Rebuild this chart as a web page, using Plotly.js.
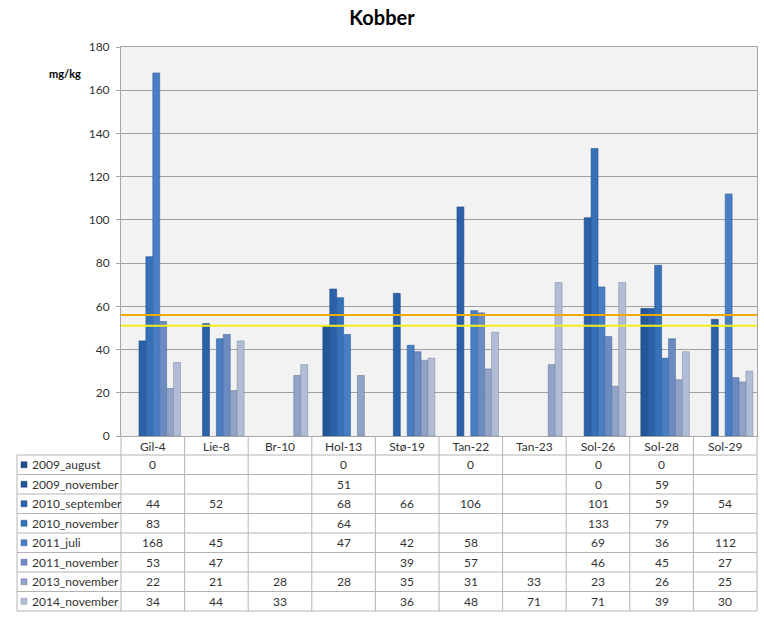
<!DOCTYPE html>
<html>
<head>
<meta charset="utf-8">
<script src="https://cdn.plot.ly/plotly-3.0.1.min.js"></script>
<style>html,body{margin:0;padding:0;background:#fff;}#chart{width:764px;height:623px;}</style>
</head>
<body>
<div id="chart"></div>
<script>
// ---- data ----
const categories = ["Gil-4","Lie-8","Br-10","Hol-13","Stø-19","Tan-22","Tan-23","Sol-26","Sol-28","Sol-29"];
const seriesNames = ["2009_august","2009_november","2010_september","2010_november","2011_juli","2011_november","2013_november","2014_november"];
const v2009_august    = [0, null, null, 0, null, 0, null, 0, 0, null];
const v2009_november  = [null, null, null, 51, null, null, null, 0, 59, null];
const v2010_september = [44, 52, null, 68, 66, 106, null, 101, 59, 54];
const v2010_november  = [83, null, null, 64, null, null, null, 133, 79, null];
const v2011_juli      = [168, 45, null, 47, 42, 58, null, 69, 36, 112];
const v2011_november  = [53, 47, null, null, 39, 57, null, 46, 45, 27];
const v2013_november  = [22, 21, 28, 28, 35, 31, 33, 23, 26, 25];
const v2014_november  = [34, 44, 33, null, 36, 48, 71, 71, 39, 30];
const seriesValues = [v2009_august, v2009_november, v2010_september, v2010_november, v2011_juli, v2011_november, v2013_november, v2014_november];
const limitOrange = 56;
const limitYellow = 51;
const yTicks = [0,20,40,60,80,100,120,140,160,180];

// ---- styling ----
const colors = ["#1f4e8c","#24579a","#2b61a9","#3570b9","#477ec4","#6a8cc3","#91a3c8","#b1bdd6"];
const lineColors = ["#163a6a","#1b4276","#214b84","#2a5692","#38629a","#52699a","#6c7a99","#848fa6"];
const FONT = "Lato, 'Liberation Sans', sans-serif";

const W = 764, H = 623;
const plotL = 121, plotR = 757, plotT = 47, plotB = 436;
const pw = plotR - plotL, ph = plotB - plotT;
const px2x = p => (p - plotL) / pw;
const py2y = p => (plotB - p) / ph;

const traces = seriesNames.map((n, i) => ({
  type: "bar",
  name: n,
  x: categories,
  y: seriesValues[i],
  marker: { color: colors[i], line: { color: lineColors[i], width: seriesValues[i].map(v => (v ? 0.6 : 0)) } },
  hoverinfo: "x+y+name"
}));

// table geometry
const tableTop = 455, rowH = 19.5, tableLeft = 17;
const nRows = seriesNames.length;
const tableBottom = tableTop + rowH * nRows;
const gridCol = "#b4b4b4";

const shapes = [];
// reference lines
shapes.push({type:"line", xref:"paper", yref:"y", x0:0, x1:1, y0:limitOrange, y1:limitOrange, line:{color:"#f2a900", width:2}});
shapes.push({type:"line", xref:"paper", yref:"y", x0:0, x1:1, y0:limitYellow, y1:limitYellow, line:{color:"#f3ee1e", width:2}});
// horizontal table lines
for (let r = 0; r <= nRows; r++) {
  const yy = py2y(tableTop + r * rowH);
  shapes.push({type:"line", xref:"paper", yref:"paper", x0:px2x(tableLeft), x1:1, y0:yy, y1:yy, line:{color:gridCol, width:1}});
}
// vertical lines: left border of row-label column
shapes.push({type:"line", xref:"paper", yref:"paper", x0:px2x(tableLeft), x1:px2x(tableLeft), y0:py2y(tableTop), y1:py2y(tableBottom), line:{color:gridCol, width:1}});
// category boundaries
for (let c = 0; c <= categories.length; c++) {
  const xx = c / categories.length;
  shapes.push({type:"line", xref:"paper", yref:"paper", x0:xx, x1:xx, y0:0, y1:py2y(tableBottom), line:{color:gridCol, width:1}});
}
// legend swatches
for (let r = 0; r < nRows; r++) {
  const cy = tableTop + r * rowH + rowH / 2;
  shapes.push({type:"rect", xref:"paper", yref:"paper", x0:px2x(21), x1:px2x(27), y0:py2y(cy + 3), y1:py2y(cy - 3), fillcolor:colors[r], line:{color:lineColors[r], width:0.5}});
}

const annotations = [];
annotations.push({xref:"paper", yref:"paper", x:px2x(65), y:py2y(73), text:"<b>mg/kg</b>", showarrow:false, font:{family:FONT, size:11, color:"#000"}, xanchor:"center", yanchor:"middle"});
for (let r = 0; r < nRows; r++) {
  const cy = tableTop + r * rowH + rowH / 2;
  annotations.push({xref:"paper", yref:"paper", x:px2x(30), y:py2y(cy), text:seriesNames[r], showarrow:false, font:{family:FONT, size:12, color:"#333"}, xanchor:"left", yanchor:"middle"});
  seriesValues[r].forEach((v, c) => {
    if (v === null) return;
    annotations.push({xref:"x", yref:"paper", x:categories[c], y:py2y(cy), text:String(v), showarrow:false, font:{family:FONT, size:12, color:"#333"}, xanchor:"center", yanchor:"middle"});
  });
}

const layout = {
  width: W, height: H,
  margin: {l: plotL, r: W - plotR, t: plotT, b: H - plotB},
  paper_bgcolor: "#ffffff",
  plot_bgcolor: "#f2f2f2",
  title: {text: "<b>Kobber</b>", x: 0.5, xanchor: "center", y: 1 - 18 / H, yanchor: "middle", font: {family: FONT, size: 20, color: "#000"}},
  showlegend: false,
  barmode: "group",
  bargap: 0.13,
  bargroupgap: 0,
  font: {family: FONT, color: "#333"},
  xaxis: {
    type: "category",
    showgrid: false,
    showline: true, linecolor: "#a6a6a6", linewidth: 1, mirror: true,
    ticks: "", tickfont: {family: FONT, size: 12, color: "#333"},
    ticklabelstandoff: 0,
    fixedrange: true
  },
  yaxis: {
    range: [0, 180],
    tickvals: yTicks,
    showgrid: true, gridcolor: "#a0a0a0", gridwidth: 1,
    showline: true, linecolor: "#a6a6a6", linewidth: 1, mirror: true,
    ticks: "outside", ticklen: 4, tickcolor: "#a6a6a6",
    tickfont: {family: FONT, size: 12, color: "#333"},
    ticklabelstandoff: 4,
    zeroline: false,
    fixedrange: true
  },
  shapes: shapes,
  annotations: annotations
};

Plotly.newPlot("chart", traces, layout, {displayModeBar: false, staticPlot: true});
</script>
</body>
</html>
